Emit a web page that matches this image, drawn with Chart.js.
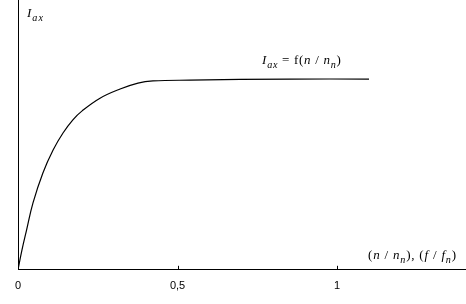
<!DOCTYPE html>
<html>
<head>
<meta charset="utf-8">
<script src="https://cdn.jsdelivr.net/npm/chart.js@4.4.0/dist/chart.umd.min.js"></script>
<style>
  html, body { margin: 0; padding: 0; background: #fff; }
  #wrap { width: 466px; height: 304px; }
</style>
</head>
<body>
<div id="wrap"><canvas id="chart1"></canvas></div>
<script>
// relative speed n/nn and current Iах
const speedRatio = [0, 0.0125, 0.027, 0.047, 0.078, 0.110, 0.141, 0.172, 0.201, 0.257, 0.320, 0.376, 0.423, 0.539, 0.853, 1.10];
const currentRatio = [0, 0.074, 0.148, 0.248, 0.359, 0.444, 0.507, 0.556, 0.589, 0.636, 0.670, 0.692, 0.700, 0.703, 0.707, 0.707];
const tickValues = [0, 0.5, 1];
const tickLabels = ["0", "0,5", "1"];

const serif = "'Liberation Serif', 'Times New Roman', serif";

// draws a run of text pieces char by char, some italic, some as subscript
function drawRich(ctx, parts, x, y, size, spacing) {
  let cx = x;
  parts.forEach(p => {
    const s = p.sub ? size * 0.78 : size;
    ctx.font = (p.it ? 'italic ' : '') + s + 'px ' + serif;
    for (const ch of p.t) {
      ctx.fillText(ch, cx, p.sub ? y + size * 0.3 : y);
      cx += ctx.measureText(ch).width + spacing;
    }
  });
}

const decorPlugin = {
  id: 'decor',
  afterDraw(chart) {
    const ctx = chart.ctx;
    const xs = chart.scales.x;
    const ys = chart.scales.y;
    const area = chart.chartArea;
    ctx.save();
    ctx.strokeStyle = '#000';
    ctx.lineWidth = 1;
    // y axis line
    ctx.beginPath();
    ctx.moveTo(Math.round(area.left) + 0.5, area.top);
    ctx.lineTo(Math.round(area.left) + 0.5, area.bottom);
    ctx.stroke();
    // small tick marks pointing up
    tickValues.forEach(v => {
      const px = Math.round(xs.getPixelForValue(v)) + 0.5;
      ctx.beginPath();
      ctx.moveTo(px, area.bottom);
      ctx.lineTo(px, area.bottom - 4);
      ctx.stroke();
    });
    ctx.fillStyle = '#000';
    ctx.textBaseline = 'alphabetic';
    ctx.textAlign = 'left';
    drawRich(ctx, [{t: 'I', it: true}, {t: 'ах', it: true, sub: true}], area.left + 9, 17, 13, 1);
    drawRich(ctx, [
      {t: 'I', it: true}, {t: 'ах', it: true, sub: true}, {t: ' = f('},
      {t: 'n', it: true}, {t: ' / '}, {t: 'n', it: true}, {t: 'n', it: true, sub: true}, {t: ')'}
    ], xs.getPixelForValue(0.765), ys.getPixelForValue(0.763), 13, 0.7);
    drawRich(ctx, [
      {t: '('}, {t: 'n', it: true}, {t: ' / '}, {t: 'n', it: true}, {t: 'n', it: true, sub: true},
      {t: '), ('}, {t: 'f', it: true}, {t: ' / '}, {t: 'f', it: true}, {t: 'n', it: true, sub: true}, {t: ')'}
    ], xs.getPixelForValue(1.097), ys.getPixelForValue(0.04), 13, 0.8);
    ctx.restore();
  }
};

const data = {
  datasets: [{
    label: 'Iах',
    data: speedRatio.map((v, i) => ({x: v, y: currentRatio[i]})),
    borderColor: '#000',
    borderWidth: 1.2,
    pointRadius: 0,
    tension: 0.4,
    fill: false
  }]
};

const myChart1 = new Chart(document.getElementById('chart1'), {
  type: 'line',
  data: data,
  plugins: [decorPlugin],
  options: {
    responsive: true,
    maintainAspectRatio: false,
    animation: false,
    layout: { padding: { left: 18, right: 0, top: 0, bottom: 1 } },
    plugins: {
      legend: { display: false },
      tooltip: { enabled: false }
    },
    scales: {
      x: {
        type: 'linear',
        min: 0,
        max: 1.404,
        afterBuildTicks: (scale) => { scale.ticks = tickValues.map(v => ({value: v})); },
        ticks: {
          autoSkip: false,
          maxRotation: 0,
          padding: 10,
          color: '#000',
          font: { family: "'Liberation Sans', Arial, sans-serif", size: 11 },
          callback: (v) => tickLabels[tickValues.indexOf(v)] ?? ''
        },
        grid: { display: false, drawTicks: false },
        border: { display: true, color: '#000', width: 1 }
      },
      y: {
        display: false,
        min: 0,
        max: 1
      }
    }
  }
});
</script>
</body>
</html>
